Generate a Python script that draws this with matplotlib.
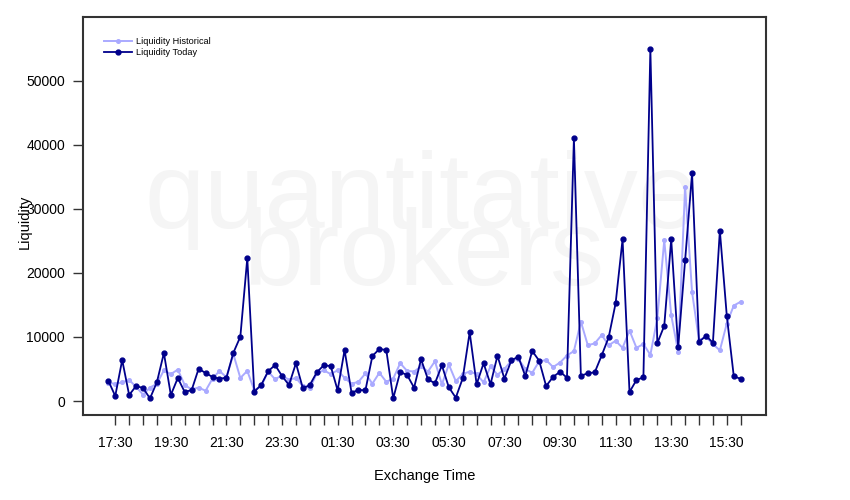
import matplotlib
matplotlib.use("Agg")
import matplotlib.pyplot as plt
import pandas as pd

plt.rcParams['font.family'] = ['Liberation Sans', 'DejaVu Sans']

# 15-minute buckets, exchange time 17:15 -> 16:00 (next day)
times = pd.date_range("2013-01-01 17:15", periods=92, freq="15min")

liquidity_today = [
    3170, 780, 6400, 940, 2340, 2030, 400, 2970, 7490, 940,
    3590, 1400, 1720, 5040, 4370, 3750, 3480, 3640, 7540, 10040,
    22300, 1450, 2500, 4640, 5620, 3900, 2500, 5890, 1980, 2500,
    4480, 5570, 5460, 1670, 7960, 1300, 1720, 1670, 7020, 8120,
    7960, 420, 4530, 4060, 2080, 6510, 3390, 2760, 5570, 2140,
    520, 3540, 10720, 2610, 5890, 2610, 7070, 3480, 6350, 6920,
    3900, 7810, 6290, 2340, 3750, 4570, 3640, 41000, 3950, 4320,
    4480, 7130, 9940, 15250, 25240, 1400, 3280, 3700, 54950, 9010,
    11750, 25240, 8380, 21960, 35550, 9210, 10190, 9100, 26590, 13270,
    3900, 3430,
]

liquidity_historical = [
    2800, 2700, 2900, 3300, 2200, 1000, 2100, 2700, 4800, 4200,
    4900, 2500, 1800, 2100, 1600, 3500, 4700, 3700, 7300, 3600,
    4700, 1700, 2300, 4600, 3400, 4000, 3300, 3600, 2300, 2000,
    4300, 4800, 4200, 4800, 3600, 2700, 3000, 4300, 2700, 4400,
    3000, 3500, 5900, 4700, 4600, 5400, 4600, 6200, 2600, 5700,
    3100, 4200, 4600, 4200, 2900, 5400, 4100, 5000, 6300, 6600,
    5000, 4400, 6200, 6400, 5300, 6000, 7100, 7800, 12400, 8700,
    9000, 10300, 8700, 9400, 8300, 11000, 8300, 8900, 7200, 12900,
    25100, 13400, 7700, 33400, 17000, 9500, 10000, 8900, 7900, 12100,
    14900, 15500,
]

tick_labels = ["17:30", "19:30", "21:30", "23:30", "01:30", "03:30",
               "05:30", "07:30", "09:30", "11:30", "13:30", "15:30"]
y_ticks = [0, 10000, 20000, 30000, 40000, 50000]

fig = plt.figure(figsize=(8.5, 5.0), dpi=100)
ax = fig.add_axes([83 / 850, 1 - 415 / 500, (766 - 83) / 850, (415 - 16.7) / 500])

# watermark
ax.text(422 / 850, 1 - 228 / 500, "quantitative", transform=fig.transFigure,
        ha="center", va="baseline", fontsize=78, color="#f5f5f5", zorder=0.5)
ax.text(424 / 850, 1 - 285 / 500, "brokers", transform=fig.transFigure,
        ha="center", va="baseline", fontsize=78, color="#f5f5f5", zorder=0.5)

ax.plot(times, liquidity_historical, color="#aaaaff", lw=1.4, marker="o",
        ms=2.6, label="Liquidity Historical", zorder=2)
ax.plot(times, liquidity_today, color="#00008b", lw=1.3, marker="o",
        ms=3.5, label="Liquidity Today", zorder=3)

span = times[-1] - times[0]
ax.set_xlim(times[0] - 0.04 * span, times[-1] + 0.04 * span)
ax.set_ylim(-2185, 60000)

# x ticks every 30 minutes, labels every 2 hours
tick_pos = times[1::2]
ax.set_xticks(tick_pos)
labels = []
for k in range(len(tick_pos)):
    labels.append(tick_labels[k // 4] if k % 4 == 0 and k // 4 < len(tick_labels) else "")
ax.set_xticklabels(labels)
ax.set_yticks(y_ticks)
ax.set_yticklabels([str(v) for v in y_ticks])

ax.tick_params(axis="x", length=7, width=1, color="#333333", pad=8, labelsize=10)
ax.tick_params(axis="y", length=7, width=1, color="#333333", pad=6, labelsize=10)

for s in ax.spines.values():
    s.set_color("#333333")
    s.set_linewidth(1.5)

ax.set_xlabel("Exchange Time", fontsize=10.5, labelpad=14)
ax.set_ylabel("Liquidity", fontsize=10.5)
ax.yaxis.set_label_coords(-(83 - 32) / 683, (415 - 222) / 398.3)

ax.legend(loc="upper left", bbox_to_anchor=((104 - 83) / 683, 1 - (37 - 16.7) / 398.3),
          frameon=False, fontsize=6.6, handlelength=3.0, handletextpad=0.5,
          borderpad=0, borderaxespad=0, labelspacing=0.25)

fig.savefig("out.png", dpi=100)
